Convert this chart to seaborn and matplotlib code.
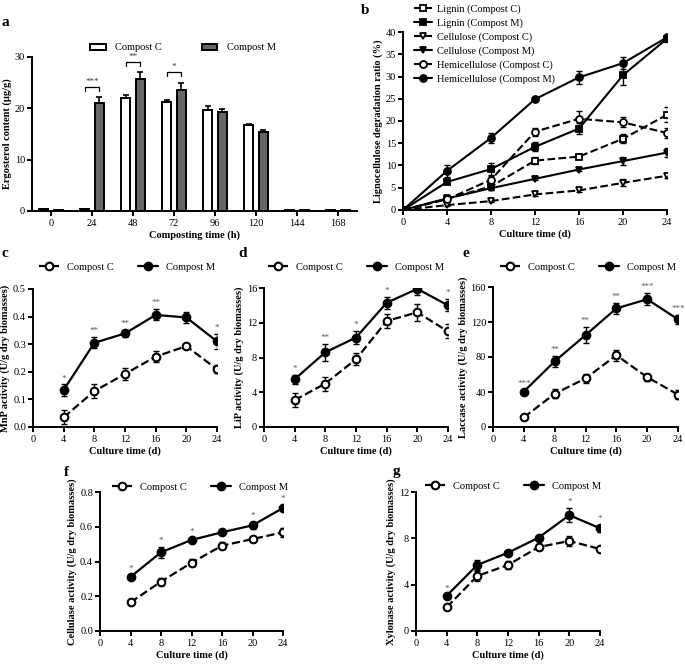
import numpy as np
import pandas as pd
import seaborn as sns
import matplotlib.pyplot as plt

# ---------------- data ----------------
# panel a
a_times = ["0", "24", "48", "72", "96", "120", "144", "168"]
a_C = [0.3, 0.3, 22.1, 21.3, 19.7, 16.8, 0.2, 0.2]
a_C_err = [0.1, 0.1, 0.5, 0.4, 0.7, 0.2, 0.05, 0.05]
a_M = [0.2, 21.0, 25.8, 23.6, 19.2, 15.4, 0.15, 0.15]
a_M_err = [0.05, 1.3, 1.2, 1.4, 0.7, 0.4, 0.05, 0.05]
a_sig_idx = [1, 2, 3]
a_sig_y = [24.1, 29.0, 27.1]
a_sig_lab = ["***", "**", "*"]

# panel b
b_x = [0, 4, 8, 12, 16, 20, 24]
b_lig_C = [0, 2.5, 5.3, 11.1, 12.0, 16.0, 21.4]
b_lig_C_err = [0, 0.5, 0.8, 0.8, 0.6, 1.0, 1.7]
b_lig_M = [0, 6.3, 9.2, 14.2, 18.3, 30.3, 38.5]
b_lig_M_err = [0, 0.5, 1.3, 1.0, 1.3, 2.1, 0.8]
b_cel_C = [0, 1.1, 2.0, 3.5, 4.4, 6.1, 7.7]
b_cel_C_err = [0, 0.2, 0.3, 0.4, 0.4, 0.8, 0.4]
b_cel_M = [0, 2.6, 4.9, 7.0, 9.1, 11.0, 12.9]
b_cel_M_err = [0, 0.3, 0.4, 0.3, 0.3, 0.9, 1.1]
b_hem_C = [0, 2.4, 6.8, 17.6, 20.5, 19.7, 17.3]
b_hem_C_err = [0, 0.4, 0.8, 0.9, 1.7, 1.1, 1.1]
b_hem_M = [0, 8.8, 16.2, 24.9, 29.8, 33.0, 38.8]
b_hem_M_err = [0, 1.4, 1.2, 0.4, 1.5, 1.4, 0.4]

# panels c-g
days = [4, 8, 12, 16, 20, 24]
c_C = [0.035, 0.13, 0.192, 0.255, 0.293, 0.209]
c_C_err = [0.025, 0.025, 0.02, 0.02, 0.008, 0.015]
c_M = [0.134, 0.305, 0.339, 0.406, 0.397, 0.31]
c_M_err = [0.02, 0.02, 0.012, 0.02, 0.02, 0.028]
c_sig = ["*", "**", "**", "**", "", "*"]

d_C = [3.1, 5.0, 7.8, 12.2, 13.2, 11.0]
d_C_err = [0.8, 0.8, 0.7, 0.8, 1.0, 0.8]
d_M = [5.5, 8.6, 10.3, 14.3, 15.9, 14.0]
d_M_err = [0.5, 1.0, 0.8, 0.7, 0.7, 0.7]
d_sig = ["*", "**", "*", "*", "**", "*"]

e_C = [11, 38, 55.5, 82, 57, 37]
e_C_err = [1.5, 5, 5, 6, 4, 5]
e_M = [40.5, 75, 105, 135.5, 146, 123]
e_M_err = [2, 6, 9, 6, 7, 5]
e_sig = ["***", "**", "**", "**", "***", "***"]

f_C = [0.165, 0.284, 0.393, 0.491, 0.529, 0.568]
f_C_err = [0.006, 0.02, 0.02, 0.02, 0.01, 0.025]
f_M = [0.311, 0.453, 0.524, 0.568, 0.608, 0.708]
f_M_err = [0.01, 0.03, 0.01, 0.006, 0.02, 0.015]
f_sig = ["*", "*", "*", "", "*", "*"]

g_C = [2.05, 4.75, 5.7, 7.25, 7.77, 7.08]
g_C_err = [0.1, 0.45, 0.35, 0.2, 0.4, 0.2]
g_M = [3.05, 5.7, 6.76, 8.06, 10.0, 8.87]
g_M_err = [0.1, 0.4, 0.1, 0.1, 0.6, 0.3]
g_sig = ["*", "", "", "", "*", "*"]

# ---------------- style ----------------
sns.set_theme(style="ticks")
plt.rcParams["font.family"] = ["Liberation Serif", "DejaVu Serif"]
FS = 7.5
plt.rcParams.update({
    "axes.linewidth": 1.4,
    "xtick.major.width": 1.4, "ytick.major.width": 1.4,
    "xtick.major.size": 3.5, "ytick.major.size": 3.5,
    "xtick.major.pad": 2, "ytick.major.pad": 1.5,
    "xtick.labelsize": FS, "ytick.labelsize": FS,
    "axes.labelsize": FS, "axes.labelweight": "bold",
    "xtick.color": "black", "ytick.color": "black",
    "axes.edgecolor": "black", "text.color": "black",
    "axes.labelcolor": "black",
})

W, H = 685, 664
fig = plt.figure(figsize=(W / 100, H / 100), dpi=100)


def axpos(l, r, t, b):
    return [l / W, 1 - b / H, (r - l) / W, (b - t) / H]


def letter(x, y, s):
    fig.text(x / W, 1 - y / H, s, fontsize=11, fontweight="bold", ha="center", va="center")


def fig_xy(x, y):
    return (x / W, 1 - y / H)


# ---------------- panel a ----------------
ax = fig.add_axes(axpos(32, 357, 57, 211))
df_a = pd.DataFrame({
    "time": a_times * 2,
    "val": a_C + a_M,
    "grp": ["Compost C"] * len(a_times) + ["Compost M"] * len(a_times),
})
sns.barplot(data=df_a, x="time", y="val", hue="grp", order=a_times,
            palette={"Compost C": "white", "Compost M": "#666666"},
            edgecolor="black", linewidth=1.4, width=0.72, gap=0.39,
            errorbar=None, ax=ax)
centers = []
for cont, vals, errs in zip(ax.containers, [a_C, a_M], [a_C_err, a_M_err]):
    xs = [b.get_x() + b.get_width() / 2 for b in cont]
    centers.append(xs)
    ax.errorbar(xs, vals, yerr=[np.zeros(len(errs)), errs], fmt="none",
                ecolor="black", elinewidth=1.2, capsize=2.5, capthick=1.2, zorder=1)
for i, yb, lab in zip(a_sig_idx, a_sig_y, a_sig_lab):
    x1, x2 = centers[0][i], centers[1][i]
    ax.plot([x1, x1, x2, x2], [yb - 0.8, yb, yb, yb - 0.8], color="black", lw=0.9)
    ax.text((x1 + x2) / 2, yb + 0.2, lab, ha="center", va="bottom", fontsize=6.5, color="#333333")
ax.set_xlim(-0.46, 7.46)
ax.set_ylim(0, 30)
ax.set_yticks([0, 10, 20, 30])
ax.set_xlabel("Composting time (h)", labelpad=2)
ax.set_ylabel("Ergosterol content (μg/g)", labelpad=2)
sns.despine(ax=ax)
sns.move_legend(ax, loc="center", bbox_to_anchor=fig_xy(183, 48),
                bbox_transform=fig.transFigure, ncol=2, frameon=False, title=None,
                fontsize=FS, handlelength=1.5, handleheight=0.55, columnspacing=3.8,
                handletextpad=0.9)
letter(5, 22, "a")

# ---------------- panel b ----------------
ax = fig.add_axes(axpos(403, 667, 32, 210))
series_b = [
    ("Lignin (Compost C)", b_lig_C, b_lig_C_err, "s", "white", "--"),
    ("Lignin (Compost M)", b_lig_M, b_lig_M_err, "s", "black", "-"),
    ("Cellulose (Compost C)", b_cel_C, b_cel_C_err, "v", "white", "--"),
    ("Cellulose (Compost M)", b_cel_M, b_cel_M_err, "v", "black", "-"),
    ("Hemicellulose (Compost C)", b_hem_C, b_hem_C_err, "o", "white", "--"),
    ("Hemicellulose (Compost M)", b_hem_M, b_hem_M_err, "o", "black", "-"),
]
for lab, vals, errs, mk, fc, ls in series_b:
    ax.errorbar(b_x, vals, yerr=errs, fmt="none", ecolor="black", elinewidth=1.0,
                capsize=2.5, capthick=1.0, zorder=2)
    sns.lineplot(x=b_x, y=vals, ax=ax, color="black", marker=mk, markersize=5,
                 markerfacecolor=fc, markeredgecolor="black", markeredgewidth=1.3,
                 linestyle=ls, linewidth=1.5, label=lab, zorder=3)
ax.set_xlim(0, 24)
ax.set_ylim(0, 40)
ax.set_xticks([0, 4, 8, 12, 16, 20, 24])
ax.set_yticks(range(0, 41, 5))
ax.set_xlabel("Culture time (d)", labelpad=2)
ax.set_ylabel("Lignocellulose degradation ratio (%)", labelpad=2)
sns.despine(ax=ax)
h, l = ax.get_legend_handles_labels()
ax.legend(h, l, loc="upper left", bbox_to_anchor=fig_xy(412, 2), bbox_transform=fig.transFigure,
          frameon=False, fontsize=FS, handlelength=1.7, labelspacing=0.42, handletextpad=0.5,
          borderaxespad=0, borderpad=0.2)
letter(365, 10, "b")


# ---------------- panels c-g ----------------
def line_panel(pos, C, Ce, M, Me, sig, ylim, yticks, ylabel, leg_xy, let_xy, let, fmt=None):
    ax = fig.add_axes(pos)
    ax.errorbar(days, C, yerr=Ce, fmt="none", ecolor="black", elinewidth=1.0,
                capsize=2.5, capthick=1.0, zorder=2)
    ax.errorbar(days, M, yerr=Me, fmt="none", ecolor="black", elinewidth=1.0,
                capsize=2.5, capthick=1.0, zorder=2)
    sns.lineplot(x=days, y=C, ax=ax, color="black", marker="o", markersize=5.5,
                 markerfacecolor="white", markeredgecolor="black", markeredgewidth=1.5,
                 linestyle="--", linewidth=1.6, label="Compost C", zorder=3)
    sns.lineplot(x=days, y=M, ax=ax, color="black", marker="o", markersize=5.5,
                 markerfacecolor="black", markeredgecolor="black", markeredgewidth=1.5,
                 linestyle="-", linewidth=1.6, label="Compost M", zorder=3)
    for xv, yv, ev, s in zip(days, M, Me, sig):
        if s:
            ax.annotate(s, (xv, yv + ev), xytext=(0, 1.5), textcoords="offset points",
                        ha="center", va="bottom", fontsize=6.5, color="#555555")
    ax.set_xlim(0, 24)
    ax.set_ylim(*ylim)
    ax.set_xticks([0, 4, 8, 12, 16, 20, 24])
    ax.set_yticks(yticks)
    if fmt:
        ax.set_yticklabels([fmt.format(v) for v in yticks])
    ax.set_xlabel("Culture time (d)", labelpad=2)
    ax.set_ylabel(ylabel, labelpad=2)
    sns.despine(ax=ax)
    h, l = ax.get_legend_handles_labels()
    ax.legend(h, l, loc="center", bbox_to_anchor=fig_xy(*leg_xy), bbox_transform=fig.transFigure,
              ncol=2, frameon=False, fontsize=FS, handlelength=1.9, columnspacing=2.3,
              handletextpad=0.8, borderpad=0)
    letter(let_xy[0], let_xy[1], let)
    return ax


line_panel(axpos(33, 217, 289, 427), c_C, c_C_err, c_M, c_M_err, c_sig, (0, 0.5),
           [0, 0.1, 0.2, 0.3, 0.4, 0.5], "MnP activity (U/g dry biomasses)",
           (127, 267), (5, 253), "c", fmt="{:.1f}")
line_panel(axpos(264, 448, 288, 427), d_C, d_C_err, d_M, d_M_err, d_sig, (0, 16),
           [0, 4, 8, 12, 16], "LiP activity (U/g dry biomasses)",
           (356, 267), (243, 253), "d")
line_panel(axpos(493, 678, 287, 427), e_C, e_C_err, e_M, e_M_err, e_sig, (0, 160),
           [0, 40, 80, 120, 160], "Laccase activity (U/g dry biomasses)",
           (588, 267), (466, 253), "e")
line_panel(axpos(100, 283, 492, 631), f_C, f_C_err, f_M, f_M_err, f_sig, (0, 0.8),
           [0, 0.2, 0.4, 0.6, 0.8], "Cellulase activity (U/g dry biomasses)",
           (200, 487), (66, 473), "f", fmt="{:.1f}")
line_panel(axpos(416, 600, 492, 631), g_C, g_C_err, g_M, g_M_err, g_sig, (0, 12),
           [0, 4, 8, 12], "Xylonase activity (U/g dry biomasses)",
           (513, 486), (396, 472), "g")

fig.savefig("out.png", dpi=100)
